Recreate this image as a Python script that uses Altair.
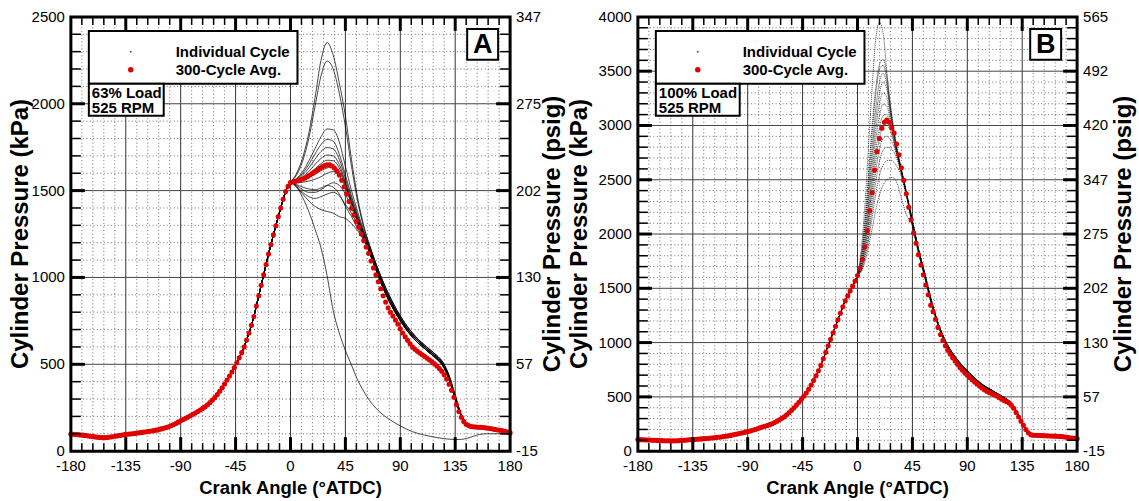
import altair as alt
import pandas as pd

FONT = "Liberation Sans"
RED = "#e00000"
W, H = 440, 435

# ---------------------------------------------------------------- data ----
# 300-cycle averaged pressure (kPa), crank angle -180..180 in 2 degree steps
AVG_CA = list(range(-180, 181, 2))

A_AVG = [
    98, 97, 96, 95, 93, 92, 90, 88, 86, 84,
    82, 80, 79, 78, 78, 79, 81, 83, 86, 88,
    90, 93, 95, 97, 99, 100, 102, 104, 106, 108,
    110, 112, 114, 116, 118, 121, 124, 128, 132, 136,
    140, 146, 152, 159, 167, 175, 182, 189, 196, 204,
    212, 220, 228, 237, 246, 255, 267, 280, 294, 309,
    326, 345, 365, 387, 410, 432, 456, 482, 509, 537,
    567, 600, 640, 680, 725, 775, 835, 895, 955, 1015,
    1075, 1135, 1190, 1245, 1298, 1350, 1400, 1450, 1495, 1525,
    1546, 1551, 1554, 1557, 1562, 1567, 1573, 1581, 1590, 1599,
    1608, 1618, 1628, 1637, 1644, 1648, 1648, 1642, 1630, 1612,
    1590, 1560, 1522, 1480, 1437, 1398, 1360, 1322, 1290, 1250,
    1212, 1175, 1138, 1095, 1055, 1015, 975, 935, 895, 858,
    825, 800, 778, 755, 732, 705, 680, 658, 638, 618,
    600, 587, 575, 565, 555, 545, 535, 525, 515, 503,
    490, 476, 460, 440, 415, 385, 350, 310, 268, 228,
    195, 170, 155, 147, 142, 140, 139, 138, 137, 136,
    134, 132, 130, 127, 125, 122, 120, 117, 114, 110,
    105,
]

B_AVG = [
    107, 106, 105, 104, 103, 102, 101, 100, 99, 98,
    97, 96, 96, 95, 95, 95, 96, 97, 99, 101,
    103, 105, 106, 108, 110, 111, 113, 115, 117, 119,
    121, 123, 125, 128, 131, 134, 137, 141, 145, 150,
    155, 160, 165, 170, 175, 180, 186, 193, 200, 207,
    215, 222, 229, 236, 244, 252, 264, 276, 289, 302,
    316, 335, 355, 377, 400, 425, 450, 477, 505, 535,
    570, 610, 650, 695, 740, 790, 850, 910, 970, 1030,
    1090, 1150, 1210, 1270, 1330, 1385, 1430, 1475, 1520, 1568,
    1618, 1685, 1765, 1880, 2030, 2215, 2380, 2590, 2760, 2880,
    2975, 3030, 3050, 3030, 2980, 2930, 2830, 2730, 2610, 2495,
    2370, 2246, 2130, 2010, 1915, 1810, 1715, 1625, 1530, 1440,
    1345, 1285, 1215, 1140, 1075, 1020, 970, 930, 895, 860,
    830, 800, 770, 745, 720, 700, 678, 658, 638, 618,
    600, 582, 565, 552, 541, 532, 520, 508, 495, 480,
    468, 457, 445, 425, 395, 355, 315, 275, 238, 200,
    170, 152, 147, 146, 145, 144, 143, 142, 141, 140,
    139, 138, 137, 136, 134, 130, 127, 124, 121, 118,
    115,
]

# Individual cycles, 63 % load: combustion part (0..60 deg)
A_KNOT_CA = [0, 5, 10, 15, 20, 25, 30, 35, 40, 45, 50, 55, 60]
A_CYCLES = {
    "a01": ([1546, 1600, 1690, 1830, 2030, 2250, 2352, 2280, 2120, 1930, 1680, 1460, 1300], "hi"),
    "a02": ([1546, 1590, 1670, 1800, 1980, 2160, 2246, 2200, 2060, 1870, 1640, 1440, 1290], "hi"),
    "a03": ([1546, 1570, 1610, 1670, 1740, 1810, 1855, 1850, 1780, 1640, 1500, 1380, 1270], "hi"),
    "a04": ([1546, 1565, 1600, 1650, 1710, 1765, 1795, 1785, 1710, 1590, 1470, 1360, 1260], "mid"),
    "a05": ([1546, 1562, 1590, 1630, 1680, 1725, 1748, 1740, 1680, 1570, 1455, 1350, 1255], "mid"),
    "a06": ([1546, 1558, 1580, 1610, 1650, 1685, 1705, 1700, 1650, 1550, 1440, 1340, 1250], "mid"),
    "a07": ([1546, 1555, 1570, 1595, 1625, 1655, 1675, 1672, 1630, 1540, 1435, 1335, 1245], "mid"),
    "a08": ([1546, 1550, 1560, 1575, 1595, 1615, 1630, 1640, 1610, 1530, 1430, 1330, 1240], "lo"),
    "a09": ([1546, 1545, 1548, 1555, 1565, 1580, 1600, 1610, 1585, 1520, 1420, 1325, 1235], "lo"),
    "a10": ([1546, 1530, 1505, 1490, 1490, 1505, 1530, 1545, 1530, 1480, 1400, 1315, 1230], "lo"),
    "a11": ([1546, 1525, 1490, 1465, 1455, 1465, 1480, 1490, 1470, 1420, 1370, 1300, 1225], "lo"),
    "a12": ([1546, 1520, 1480, 1440, 1410, 1390, 1380, 1370, 1350, 1340, 1310, 1270, 1215], "lo"),
    "a13": ([1546, 1535, 1520, 1510, 1505, 1515, 1530, 1520, 1480, 1410, 1350, 1285, 1220], "mid"),
}
# expansion bundle of the firing cycles (65..180 deg)
A_TAIL_CA = [65, 70, 75, 80, 85, 90, 95, 100, 105, 110, 115, 120, 125, 130,
             135, 140, 145, 150, 160, 170, 180]
A_TAILS = {
    "hi": [1180, 1080, 990, 910, 840, 778, 725, 680, 642, 610, 580, 550, 510, 435,
           320, 210, 158, 143, 137, 125, 107],
    "mid": [1160, 1062, 972, 893, 825, 765, 712, 668, 632, 600, 570, 540, 500, 425,
            310, 205, 155, 142, 136, 124, 106],
    "lo": [1140, 1045, 955, 876, 810, 752, 700, 656, 620, 590, 560, 530, 490, 415,
           300, 200, 152, 141, 135, 123, 105],
}
# one misfiring (motored) cycle
A_MISFIRE_CA = [0, 5, 10, 15, 20, 25, 30, 35, 40, 45, 50, 55, 60, 65, 70, 75, 80,
                90, 100, 110, 120, 130, 135, 140, 145, 150, 155, 160, 170, 180]
A_MISFIRE = [1546, 1520, 1460, 1380, 1280, 1170, 1010, 810, 680, 580, 495, 410, 345,
             290, 248, 214, 188, 145, 112, 92, 78, 69, 67, 68, 74, 86, 96, 100, 100, 97]

# Individual cycles, 100 % load: combustion part (0..40 deg)
B_KNOT_CA = [0, 3, 6, 9, 12, 15, 18, 21, 24, 27, 30, 33, 36, 40]
B_CYCLES = {
    "b01": ([1618, 1850, 2250, 2800, 3350, 3800, 3950, 3850, 3500, 3150, 2900, 2730, 2580, 2390], "hi"),
    "b02": ([1618, 1800, 2120, 2550, 3000, 3350, 3560, 3610, 3470, 3200, 2960, 2760, 2600, 2390], "hi"),
    "b03": ([1618, 1780, 2080, 2480, 2920, 3290, 3520, 3555, 3420, 3160, 2940, 2750, 2595, 2385], "hi"),
    "b04": ([1618, 1760, 2040, 2400, 2800, 3160, 3400, 3480, 3380, 3140, 2920, 2740, 2590, 2380], "hi"),
    "b05": ([1618, 1740, 1990, 2330, 2720, 3060, 3300, 3400, 3340, 3120, 2910, 2735, 2585, 2380], "lo"),
    "b06": ([1618, 1720, 1950, 2260, 2630, 2960, 3200, 3300, 3260, 3080, 2890, 2725, 2580, 2375], "hi"),
    "b07": ([1618, 1710, 1920, 2200, 2540, 2860, 3090, 3195, 3180, 3040, 2870, 2715, 2575, 2375], "lo"),
    "b08": ([1618, 1700, 1890, 2140, 2460, 2760, 2980, 3090, 3100, 3000, 2850, 2705, 2570, 2370], "hi"),
    "b09": ([1618, 1690, 1860, 2090, 2390, 2670, 2880, 2990, 3000, 2950, 2830, 2700, 2565, 2370], "lo"),
    "b10": ([1618, 1680, 1830, 2040, 2310, 2580, 2780, 2880, 2900, 2870, 2800, 2690, 2560, 2365], "hi"),
    "b11": ([1618, 1670, 1800, 1990, 2230, 2480, 2670, 2770, 2800, 2790, 2750, 2670, 2550, 2360], "lo"),
    "b12": ([1618, 1660, 1775, 1940, 2150, 2370, 2540, 2635, 2675, 2680, 2660, 2610, 2530, 2350], "hi"),
    "b13": ([1618, 1650, 1740, 1880, 2050, 2220, 2360, 2450, 2500, 2520, 2515, 2450, 2330, 2180], "lo"),
}
B_TAIL_CA = [45, 50, 55, 60, 65, 70, 75, 80, 85, 90, 95, 100, 105, 110, 115, 120,
             125, 130, 135, 140, 145, 150, 160, 170, 180]
B_TAILS = {
    "hi": [2120, 1860, 1640, 1410, 1215, 1065, 955, 870, 800, 740, 685, 635, 595, 562,
           528, 495, 455, 375, 268, 175, 150, 146, 141, 133, 117],
    "lo": [2080, 1830, 1610, 1385, 1195, 1045, 938, 855, 788, 728, 673, 625, 585, 553,
           520, 488, 448, 368, 262, 172, 149, 145, 140, 132, 116],
}

# axis labels
X_LABELS = [-180, -135, -90, -45, 0, 45, 90, 135, 180]
KPA_A = ["0", "500", "1000", "1500", "2000", "2500"]
KPA_B = ["0", "500", "1000", "1500", "2000", "2500", "3000", "3500", "4000"]
PSIG_A = ["-15", "57", "130", "202", "275", "347"]
PSIG_B = ["-15", "57", "130", "202", "275", "347", "420", "492", "565"]


# ------------------------------------------------------------- helpers ----
def cycle_frame(avg, knots_ca, cycles, tail_ca, tails, extra=None):
    """Long table of individual cycles: shared compression + own knots + tail."""
    rows = []
    head = [(c, p) for c, p in zip(AVG_CA, avg) if c < 0]
    for name, (vals, tail_key) in cycles.items():
        pts = head + list(zip(knots_ca, vals)) + list(zip(tail_ca, tails[tail_key]))
        rows += [{"cyc": name, "ca": c, "p": p} for c, p in pts]
    if extra:
        name, ca_list, vals = extra
        pts = head + list(zip(ca_list, vals))
        rows += [{"cyc": name, "ca": c, "p": p} for c, p in pts]
    return pd.DataFrame(rows)


ONE = pd.DataFrame({"k": [0]})


def label_box(x0, x1, y0, y1):
    return alt.Chart(ONE).mark_rect(fill="white", stroke="black", strokeWidth=2).encode(
        x=alt.value(x0), x2=alt.value(x1), y=alt.value(y0), y2=alt.value(y1))


def label_text(x, y, text, size=15, align="left", weight="bold", angle=0):
    return alt.Chart(ONE).mark_text(
        align=align, baseline="middle", font=FONT, fontSize=size, angle=angle,
        fontWeight=weight, color="black").encode(
        x=alt.value(x), y=alt.value(y), text=alt.value(text))


def panel(avg, cyc_df, ymax, kpa, psig, letter, letter_x, load_text, load_w,
          left_title_x, right_title_x, dashed):
    xs = alt.Scale(domain=[-180, 180], nice=False, zero=False)
    ys = alt.Scale(domain=[0, ymax], nice=False, zero=False)

    x_major = pd.DataFrame({"ca": [v for v in X_LABELS if -180 < v < 180]})
    x_minor = pd.DataFrame({"ca": [v for v in range(-171, 180, 9) if v % 45 != 0]})
    y_major = pd.DataFrame({"p": [v for v in range(500, ymax, 500)]})
    y_minor = pd.DataFrame({"p": [v for v in range(100, ymax, 100) if v % 500 != 0]})
    y_lab = pd.DataFrame({"p": list(range(0, ymax + 1, 500)), "kpa": kpa, "psig": psig})
    x_lab = pd.DataFrame({"ca": X_LABELS, "lab": [str(v) for v in X_LABELS]})
    avg_df = pd.DataFrame({"ca": AVG_CA, "p": avg})

    X = alt.X("ca:Q", scale=xs, axis=None)
    Y = alt.Y("p:Q", scale=ys, axis=None)

    dots = dict(strokeDash=[1, 2.5], color="#6e6e6e", strokeWidth=1)
    grid_minor_v = alt.Chart(x_minor).mark_rule(**dots).encode(x=X)
    grid_minor_h = alt.Chart(y_minor).mark_rule(**dots).encode(y=Y)
    grid_major_v = alt.Chart(x_major).mark_rule(color="#333", strokeWidth=1).encode(x=X)
    grid_major_h = alt.Chart(y_major).mark_rule(color="#444", strokeWidth=1).encode(y=Y)

    line_style = dict(interpolate="monotone", color="#000", strokeWidth=0.8, opacity=0.9)
    if dashed:
        line_style.update(strokeDash=[1.2, 0.8], strokeWidth=0.7)
    cycles = alt.Chart(cyc_df).mark_line(**line_style).encode(x=X, y=Y, detail="cyc:N")
    avg_pts = alt.Chart(avg_df).mark_circle(size=26, color=RED, opacity=1).encode(x=X, y=Y)

    def xticks(df, length, width):
        bot = alt.Chart(df).mark_rule(color="black", strokeWidth=width).encode(
            x=X, y=alt.value(H), y2=alt.value(H - length))
        top = alt.Chart(df).mark_rule(color="black", strokeWidth=width).encode(
            x=X, y=alt.value(0), y2=alt.value(length))
        return [bot, top]

    def yticks(df, length, width):
        left = alt.Chart(df).mark_rule(color="black", strokeWidth=width).encode(
            y=Y, x=alt.value(0), x2=alt.value(length))
        right = alt.Chart(df).mark_rule(color="black", strokeWidth=width).encode(
            y=Y, x=alt.value(W), x2=alt.value(W - length))
        return [left, right]

    tick_font = dict(font=FONT, fontSize=15, color="black", baseline="middle")
    x_labels = alt.Chart(x_lab).mark_text(align="center", **tick_font).encode(
        x=X, y=alt.value(H + 15), text="lab:N")
    kpa_labels = alt.Chart(y_lab).mark_text(align="right", **tick_font).encode(
        y=Y, x=alt.value(-6), text="kpa:N")
    psig_labels = alt.Chart(y_lab).mark_text(align="left", **tick_font).encode(
        y=Y, x=alt.value(W + 6), text="psig:N")
    titles = [
        label_text(W / 2, H + 37, "Crank Angle (°ATDC)", size=18.5, align="center"),
        label_text(left_title_x, H / 2, "Cylinder Pressure (kPa)", size=24,
                   align="center", angle=270),
        label_text(W + right_title_x, H / 2, "Cylinder Pressure (psig)", size=24,
                   align="center", angle=270),
    ]

    frame = alt.Chart(ONE).mark_rect(fillOpacity=0, stroke="black", strokeWidth=3).encode(
        x=alt.value(0), x2=alt.value(W), y=alt.value(0), y2=alt.value(H))

    legend = [
        label_box(18, 227, 14, 67),
        alt.Chart(ONE).mark_circle(size=4, color="#555", opacity=1).encode(
            x=alt.value(60), y=alt.value(35)),
        alt.Chart(ONE).mark_circle(size=30, color=RED, opacity=1).encode(
            x=alt.value(60), y=alt.value(53)),
        label_text(105, 35, "Individual Cycle"),
        label_text(105, 53, "300-Cycle Avg."),
        label_box(18, load_w, 67, 99),
        label_text(21, 76, load_text),
        label_text(21, 91, "525 RPM"),
        label_box(letter_x, letter_x + 31, 12, 43),
        label_text(letter_x + 15.5, 28, letter, size=27, align="center"),
    ]

    layers = ([grid_minor_v, grid_minor_h, grid_major_v, grid_major_h, cycles, avg_pts]
              + xticks(x_minor, 8, 1.5) + xticks(x_major, 14, 3)
              + yticks(y_minor, 10, 1.5) + yticks(y_major, 14, 3)
              + [frame, x_labels, kpa_labels, psig_labels] + titles + legend)
    return alt.layer(*layers).properties(width=W, height=H)


a_df = cycle_frame(A_AVG, A_KNOT_CA, A_CYCLES, A_TAIL_CA, A_TAILS,
                   extra=("a_misfire", A_MISFIRE_CA, A_MISFIRE))
b_df = cycle_frame(B_AVG, B_KNOT_CA, B_CYCLES, B_TAIL_CA, B_TAILS)

panel_a = panel(A_AVG, a_df, 2500, KPA_A, PSIG_A, "A", 397, "63% Load", 93,
                left_title_x=-50, right_title_x=43, dashed=False)
panel_b = panel(B_AVG, b_df, 4000, KPA_B, PSIG_B, "B", 393, "100% Load", 102,
                left_title_x=-58, right_title_x=47, dashed=True)

chart = alt.hconcat(panel_a, panel_b, spacing=128, bounds="flush").properties(
    padding={"left": 8, "top": 8.5, "right": 2, "bottom": 2},
).configure_view(strokeWidth=0).configure(background="white")

chart.save("out.html", embed_options={"renderer": "svg", "actions": False})
